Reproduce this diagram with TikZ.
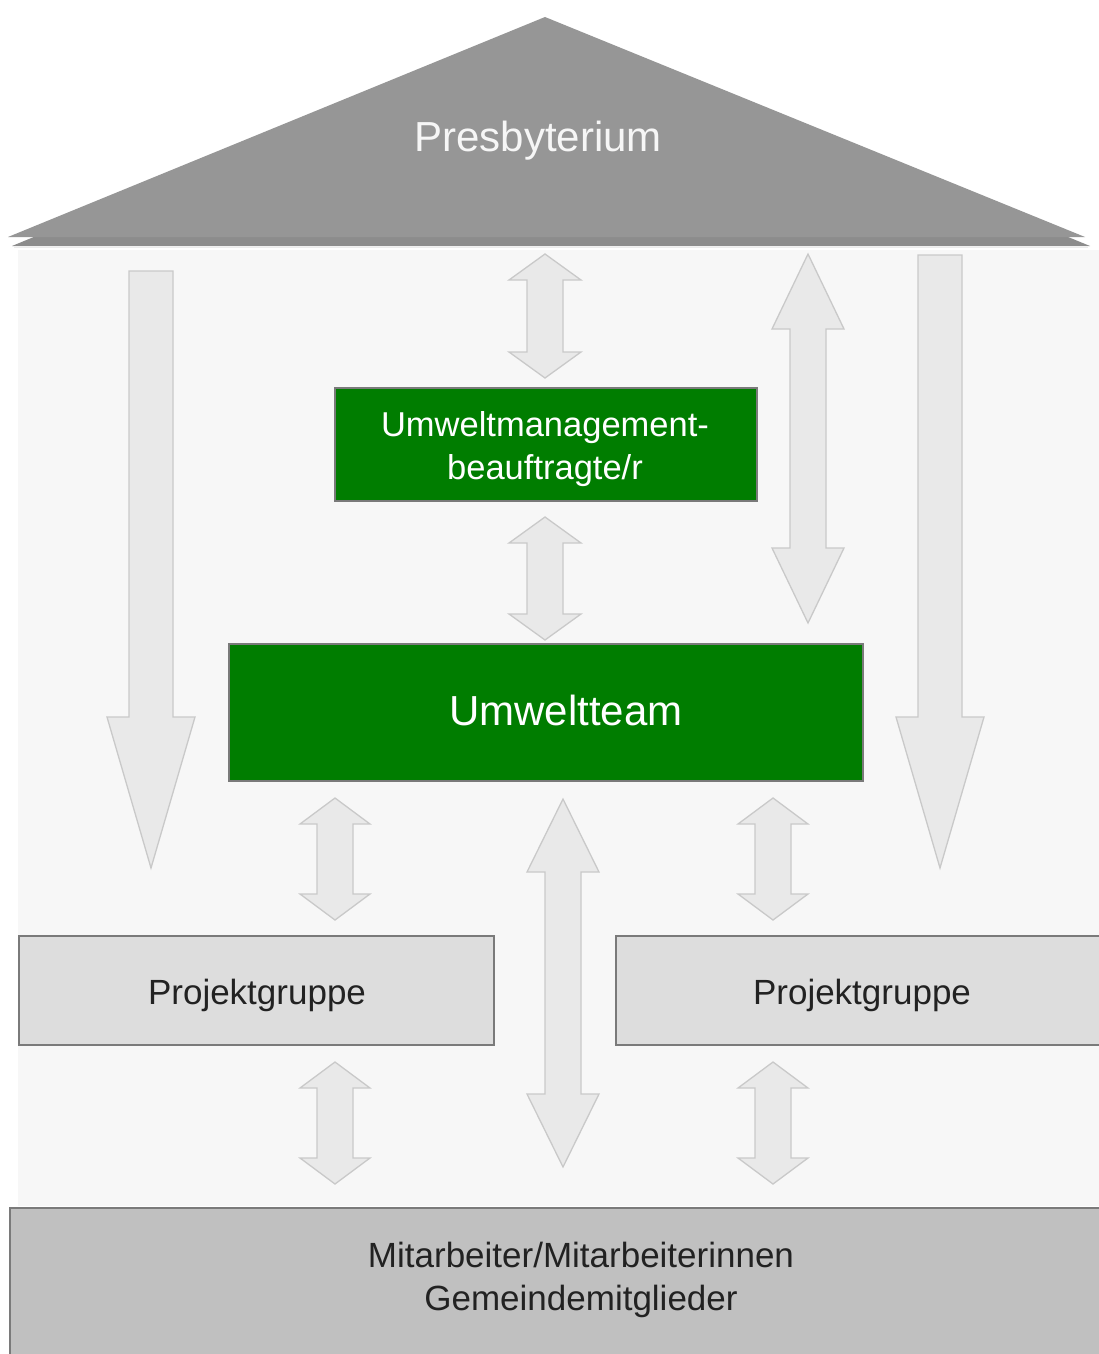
\documentclass[tikz,border=0pt]{standalone}
\usepackage{fontspec}
\setmainfont{Liberation Sans}
\definecolor{roofgray}{HTML}{969696}
\definecolor{roofshadow}{HTML}{8C8C8C}
\definecolor{panelgray}{HTML}{F7F7F7}
\definecolor{arrowfill}{HTML}{E9E9E9}
\definecolor{arrowline}{HTML}{C9C9C9}
\definecolor{umgreen}{HTML}{007D00}
\definecolor{boxline}{HTML}{7A7A7A}
\definecolor{pgfill}{HTML}{DDDDDD}
\definecolor{basefill}{HTML}{C0C0C0}
\definecolor{darktext}{HTML}{222222}
\newcommand\blockDbl[6]{% cx, ytop, ybot, headhalf, shafthalf, headlen
  \draw[blockarrow] (#1,#2) -- ({#1+#4},{#2+#6}) -- ({#1+#5},{#2+#6}) -- ({#1+#5},{#3-#6})
   -- ({#1+#4},{#3-#6}) -- (#1,#3) -- ({#1-#4},{#3-#6}) -- ({#1-#5},{#3-#6})
   -- ({#1-#5},{#2+#6}) -- ({#1-#4},{#2+#6}) -- cycle;}
\newcommand\blockDown[6]{% cx, ytop, yhead, ytip, headhalf, shafthalf
  \draw[blockarrow] ({#1-#6},#2) -- ({#1+#6},#2) -- ({#1+#6},#3) -- ({#1+#5},#3)
   -- (#1,#4) -- ({#1-#5},#3) -- ({#1-#6},#3) -- cycle;}
\begin{document}
\begin{tikzpicture}[x=1pt,y=-1pt,
  blockarrow/.style={fill=arrowfill, draw=arrowline, line width=1.3pt, line join=miter},
  greenbox/.style={draw=boxline, fill=umgreen, line width=1.5pt, inner sep=0pt},
  pgbox/.style={draw=boxline, fill=pgfill, line width=1.5pt, inner sep=0pt},
  basebox/.style={draw=boxline, fill=basefill, line width=1.5pt, inner sep=0pt},
  whitetext/.style={text=white, align=center, inner sep=0pt},
  darklabel/.style={text=darktext, align=center, inner sep=0pt}]
\useasboundingbox (0,0) rectangle (1099,1354);
\fill[white] (0,0) rectangle (1099,1354);
% panel
\fill[panelgray] (18,250) rectangle (1099,1206);
% roof
\fill[roofshadow] (549,24) -- (1090,246) -- (12,246) -- cycle;
\draw[white!85!gray, line width=1pt] (14,247.5) -- (1088,247.5);
\fill[roofgray] (545,17) -- (1085,237) -- (8,237) -- cycle;
\node[inner sep=0pt, text=white!93!gray, font=\fontsize{42}{48}\selectfont] (presb) at (538,141) {Presbyterium};
% vertical arrows
\blockDown{151}{271}{717}{868}{44}{22}
\blockDown{940}{255}{717}{868}{44}{22}
\blockDbl{545}{254}{378}{36}{18}{26}
\blockDbl{545}{517}{640}{36}{18}{26}
\blockDbl{808}{254}{623}{36}{18}{75}
\blockDbl{563}{799}{1167}{36}{18}{73}
\blockDbl{335}{798}{920}{35}{18}{26}
\blockDbl{773}{798}{920}{35}{18}{26}
\blockDbl{335}{1062}{1184}{35}{18}{26}
\blockDbl{773}{1062}{1184}{35}{18}{26}
% boxes
\node[greenbox, minimum width=422, minimum height=113] (umb) at (546,444.5) {};
\node[whitetext, font=\fontsize{34.5}{43}\selectfont] (umbtext) at (545,449) {Umweltmanagement-\\beauftragte/r};
\node[greenbox, minimum width=634, minimum height=137] (team) at (546,712.5) {};
\node[whitetext, font=\fontsize{42}{50}\selectfont] (teamtext) at (566,710) {Umweltteam};
\node[pgbox, minimum width=475, minimum height=109] (pgl) at (256.5,990.5) {};
\node[darklabel, font=\fontsize{35}{40}\selectfont] (pgltext) at (257,995) {Projektgruppe};
\node[pgbox, minimum width=488, minimum height=109] (pgr) at (860,990.5) {};
\node[darklabel, font=\fontsize{35}{40}\selectfont] (pgrtext) at (862,995) {Projektgruppe};
\node[basebox, minimum width=1100, minimum height=160] (base) at (560,1288) {};
\node[darklabel, font=\fontsize{35}{43}\selectfont] (basetext) at (581,1280) {Mitarbeiter/Mitarbeiterinnen\\Gemeindemitglieder};
\end{tikzpicture}
\end{document}
